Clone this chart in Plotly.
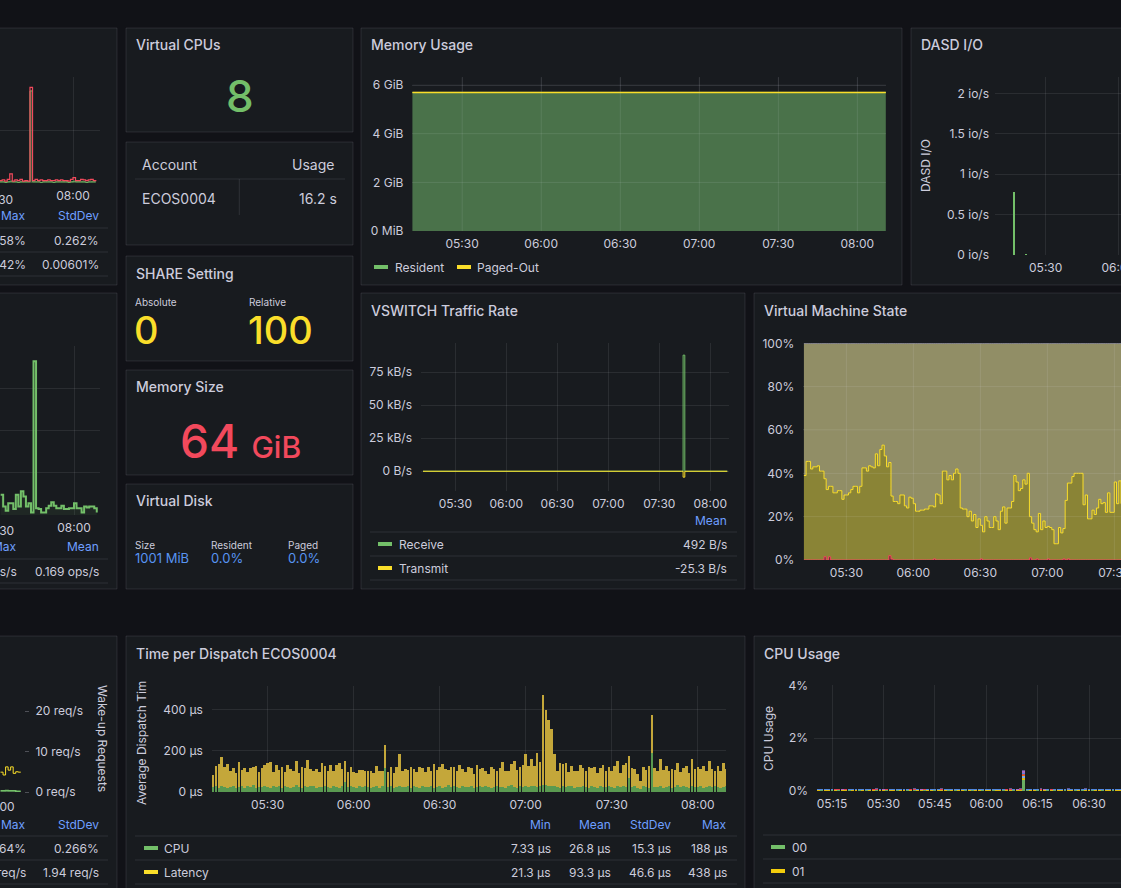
import plotly.graph_objects as go
import pandas as pd

# ---------------------------------------------------------------- data
DAY = "2024-01-01"

# cut-off left column panels (1-minute samples)
left1_start = "07:31"
left1_red = [0.04, 0.05, 0.03, 0.06, 0.15, 0.03, 0.05, 0.04, 0.06, 0.03,
             0.04, 0.03, 1.58, 0.04, 0.06, 0.04, 0.05, 0.04, 0.04, 0.05,
             0.04, 0.04, 0.05, 0.04, 0.05, 0.04, 0.04, 0.03, 0.06, 0.09,
             0.04, 0.04, 0.06, 0.05, 0.04, 0.05, 0.06, 0.04, 0.03]
left1_green = [0.02, 0.02, 0.01, 0.02, 0.03, 0.02, 0.02, 0.01, 0.02, 0.02,
               0.02, 0.02, 1.52, 0.02, 0.02, 0.02, 0.01, 0.02, 0.02, 0.02,
               0.02, 0.01, 0.02, 0.02, 0.02, 0.02, 0.02, 0.01, 0.02, 0.03,
               0.02, 0.02, 0.02, 0.02, 0.01, 0.02, 0.02, 0.02, 0.02]
left2_start = "07:31"
left2_ops = [0.24, 0.10, 0.05, 0.14, 0.14, 0.07, 0.24, 0.10, 0.28, 0.22,
             0.10, 0.14, 0.03, 1.82, 0.08, 0.07, 0.03, 0.03, 0.08, 0.11,
             0.15, 0.11, 0.08, 0.08, 0.11, 0.07, 0.07, 0.08, 0.08, 0.14,
             0.08, 0.08, 0.03, 0.10, 0.09, 0.10, 0.10, 0.08, 0.03]
left3_start = "08:01"
left3_wakeup = [4.9, 4.2, 6.2, 5.4, 6.2, 4.6, 5.0, 4.9, 4.9]
left3_green = [0.3, 0.3, 0.4, 0.3, 0.3, 0.3, 0.2, 0.2, 0.2]

# Memory usage (GiB, 15-minute samples from 05:11)
mem_start = "05:11"
mem_resident = [5.7, 5.7, 5.7, 5.7, 5.7, 5.7, 5.7, 5.7, 5.7, 5.7, 5.7, 5.7, 5.7]
mem_paged = [0, 0, 0, 0, 0, 0, 0, 0, 0, 0, 0, 0, 0]

# DASD I/O
dasd_times = ["05:17", "05:22"]
dasd_vals = [0.78, 0.01]

# VSWITCH traffic (B/s)
vs_times = ["05:11", "07:43", "07:44", "07:45", "08:10"]
vs_receive = [0, 0, 88000, 0, 0]
vs_transmit = [0, 0, -4500, 0, 0]

# Virtual machine state (% , 1-minute samples from 05:11)
vm_start = "05:11"
vm_red = [0, 0, 0, 0, 0, 0, 0, 0, 0, 1.5,
          0, 1.5, 0, 0, 0, 0, 0, 0, 0, 0,
          0, 0, 0, 0, 0, 0, 0, 0, 0, 0,
          0, 0, 0, 0, 0, 0, 0, 0, 2, 0.5,
          0, 0, 0, 0, 0, 0, 0, 0, 0, 0,
          0, 0, 0, 0, 0, 0, 0, 0, 0.5, 0,
          0, 0, 0, 0, 0, 0, 0, 0, 0, 0,
          0, 0, 0, 0, 0, 0, 0, 0, 0, 0.5,
          0, 0, 0, 0, 0, 0, 0, 0, 0, 0,
          0, 0, 0, 0, 0, 0, 0, 0, 0, 0,
          0, 1, 0, 0, 0.5, 0, 0, 0, 0, 0.5,
          0, 0, 0, 0, 0, 0, 0.5, 0, 0.5, 0,
          0, 0, 0, 0, 0, 0, 0, 0, 0, 0,
          0, 0, 0, 0, 0, 0, 0, 0, 0, 0,
          0, 0, 0]
vm_yellow = [39, 45.5, 45.5, 42, 43, 43, 43.5, 41, 41, 36,
             32.5, 32.5, 34, 31, 31, 32, 32, 28, 30, 30,
             31, 32.5, 34, 34, 31, 34, 42.5, 42.5, 41, 43.5,
             43, 42.5, 49, 43.5, 51, 53, 48, 43, 43, 29,
             27, 27, 26, 30, 30, 25, 24, 29, 28.5, 26,
             22.5, 22.5, 23, 23, 23.5, 23.5, 25, 25, 24, 30.5,
             30, 26, 41, 41, 37, 39, 37, 40, 42, 40,
             24, 23.5, 23.5, 20, 22.5, 18, 21, 15, 19, 15.5,
             13, 20, 18, 15, 15, 20, 18, 14, 22.5, 24.5,
             17, 24, 24, 27, 39, 36, 32, 33, 37, 35,
             40, 19, 17, 14, 12.5, 21.5, 14, 18, 15, 15,
             15, 14, 7.5, 7.5, 15, 12.5, 14, 27.5, 35, 35.5,
             38.5, 40, 40, 40, 40, 25.5, 30, 19, 19, 23,
             21, 24, 28, 26, 26.5, 22, 31, 22, 22, 36,
             26, 36.5, 26]

# Time per dispatch (µs, 1-minute bars from 05:11)
disp_start = "05:11"
disp_cpu = [22, 28, 19, 31, 24, 17, 26, 30, 21, 25,
            27, 18, 29, 23, 33, 20, 26, 24, 31, 22,
            19, 27, 25, 30, 21, 28, 23, 17, 26, 32,
            24, 20, 29, 22, 27, 31, 18, 25, 23, 28,
            26, 21, 30, 24, 19, 27, 48, 22, 29, 25,
            20, 28, 23, 31, 26, 18, 24, 29, 21, 27,
            118, 23, 30, 19, 26, 28, 22, 25, 31, 20,
            27, 24, 18, 29, 23, 26, 30, 21, 25, 28,
            19, 26, 32, 22, 27, 24, 20, 29, 23, 25,
            28, 18, 26, 31, 22, 27, 24, 20, 25, 29,
            23, 26, 21, 28, 32, 25, 19, 27, 24, 30,
            22, 28, 31, 25, 29, 33, 36, 30, 27, 30,
            24, 20, 29, 22, 27, 31, 18, 25, 23, 28,
            26, 21, 30, 24, 19, 27, 25, 22, 29, 25,
            20, 28, 23, 31, 26, 69, 24, 29, 21, 15,
            27, 24, 18, 187, 23, 26, 30, 21, 25, 28,
            19, 26, 32, 22, 27, 24, 20, 29, 23, 25,
            28, 18, 26, 31, 22, 27, 24, 20, 25, 29]
disp_latency = [58, 96, 118, 136, 95, 117, 78, 84, 72, 120,
                78, 100, 70, 94, 86, 108, 70, 93, 100, 116,
                125, 70, 108, 78, 100, 70, 108, 94, 78, 116,
                70, 100, 86, 132, 86, 70, 94, 73, 116, 100,
                78, 108, 73, 108, 120, 86, 102, 73, 94, 73,
                70, 78, 82, 70, 78, 86, 70, 96, 81, 74,
                109, 76, 90, 71, 96, 156, 81, 86, 74, 100,
                84, 72, 105, 88, 76, 94, 71, 115, 81, 91,
                116, 86, 74, 100, 94, 76, 110, 84, 72, 96,
                88, 71, 105, 81, 94, 76, 64, 100, 86, 71,
                94, 120, 81, 74, 105, 125, 86, 96, 106, 155,
                105, 132, 96, 166, 114, 438, 360, 318, 276, 155,
                80, 118, 106, 120, 71, 94, 86, 76, 106, 88,
                74, 100, 84, 96, 71, 88, 106, 81, 94, 76,
                104, 120, 71, 98, 112, 105, 94, 80, 66, 40,
                96, 84, 106, 185, 91, 76, 130, 86, 100, 74,
                94, 81, 110, 76, 88, 104, 71, 133, 86, 96,
                81, 106, 76, 120, 88, 74, 100, 84, 115, 81]

# CPU usage per virtual CPU (units of 0.01 %, 1-minute bars from 05:11)
cpu_start = "05:11"
cpu_names = ["00", "01", "02", "03", "04", "05", "06", "07"]
cpu_00 = [1,2,1,1,2,1,2,1,1,2, 1,1,2,1,2,1,1,2,1,1, 2,1,1,2,1,1,2,1,2,1, 1,2,1,1,2,1,1,1,2,1, 2,1,1,2,1,2,1,1,2,1, 1,2,1,1,2,1,1,2,1,1, 42,2,1,1,2,1,1,2,1,2, 1,1,2,1,1,2,1,2,1,1, 2,1,1,2,1,1,2,1,1,2]
cpu_01 = [2,1,2,2,1,2,1,2,2,1, 2,2,1,2,1,2,2,1,2,2, 1,2,2,1,2,2,1,2,1,2, 2,1,2,2,1,2,2,2,1,2, 1,2,2,1,2,1,2,2,1,2, 2,1,2,2,1,2,2,1,2,2, 6,1,2,2,1,2,2,1,2,1, 2,2,1,2,2,1,2,1,2,2, 1,2,2,1,2,2,1,2,2,1]
cpu_02 = [1,1,0,1,1,2,1,0,1,1, 0,1,1,1,0,1,2,1,1,0, 1,1,0,1,1,1,0,2,1,1, 0,1,1,0,1,1,2,1,0,1, 1,0,1,1,1,0,1,1,0,1, 1,1,0,1,1,2,1,0,1,1, 7,1,0,1,1,1,0,1,1,0, 1,1,1,0,1,1,0,1,1,1, 0,1,1,1,0,1,1,0,1,1]
cpu_03 = [0,1,1,0,1,0,1,1,1,0, 1,0,1,0,1,1,0,1,0,1, 1,0,1,1,0,1,1,0,1,0, 1,1,0,1,0,1,0,1,1,0, 1,1,0,1,0,1,1,0,1,1, 0,1,1,0,1,0,1,1,0,1, 5,0,1,1,0,1,1,0,1,1, 0,1,0,1,1,0,1,1,0,1, 1,0,1,0,1,1,0,1,1,0]
cpu_04 = [1,0,1,1,0,1,1,0,1,1, 1,1,0,1,1,0,1,1,1,0, 1,1,1,0,1,0,1,1,1,1, 0,1,1,1,1,0,1,0,1,1, 0,1,1,0,1,1,0,1,1,0, 1,0,1,1,0,1,1,1,0,1, 5,1,1,0,1,1,0,1,1,1, 1,0,1,1,0,1,1,0,1,0, 1,1,0,1,1,0,1,1,0,1]
cpu_05 = [2,1,1,2,1,1,2,1,2,1, 1,2,1,1,2,1,1,2,1,1, 2,1,2,1,1,2,1,1,2,1, 1,1,2,1,1,2,1,1,1,2, 1,2,1,1,2,1,1,2,1,1, 2,1,1,2,1,1,2,1,1,2, 4,2,1,1,2,1,1,2,1,1, 2,1,1,2,1,2,1,1,2,1, 1,2,1,1,2,1,1,2,1,1]
cpu_06 = [1,1,2,1,1,1,0,1,1,2, 1,1,1,0,1,2,1,1,1,1, 0,1,1,2,1,1,1,0,1,1, 2,1,1,1,0,1,1,1,2,1, 1,1,0,1,1,1,2,1,1,1, 0,1,1,1,2,1,1,0,1,1, 5,1,1,2,1,1,1,0,1,1, 1,2,1,1,0,1,1,1,2,1, 1,0,1,1,1,2,1,1,0,1]
cpu_07 = [1,1,1,1,2,1,1,1,0,1, 1,1,2,1,1,1,0,1,1,2, 1,1,1,1,0,1,1,2,1,1, 1,0,1,1,1,1,2,1,1,0, 1,1,1,2,1,1,0,1,1,1, 1,1,2,1,1,0,1,1,1,2, 4,1,1,1,1,2,1,1,0,1, 1,1,1,2,1,1,0,1,1,1, 2,1,1,1,1,0,1,1,1,1]
cpu_series = [cpu_00, cpu_01, cpu_02, cpu_03, cpu_04, cpu_05, cpu_06, cpu_07]

# ---------------------------------------------------------------- style
W, H = 1121, 888
BG = "#111217"
PANEL = "#181b1f"
BORDER = "rgba(204,204,220,0.12)"
SEP = "rgba(204,204,220,0.12)"
TXT = "#ccccdc"
BLUE = "#6e9fff"
GRID = "rgba(204,204,220,0.10)"
FONT = "Inter"
GREEN = "#73bf69"
YELLOW = "#fade2a"
RED = "#f2495c"
CPU_COLORS = ["#73bf69", "#f2cc0c", "#8ab8ff", "#ff780a", "#f2495c", "#5794f2", "#b877d9", "#705da0"]


def X(px):
    return px / W


def Y(py):
    return 1 - py / H


def T(hhmm, plus=0.0):
    return pd.Timestamp(f"{DAY} {hhmm}") + pd.Timedelta(minutes=plus)


def times_from(start, n, step=1):
    return [T(start, i * step) for i in range(n)]


fig = go.Figure()
layout = {}
shapes = []
annotations = []


def panel(x0, y0, x1, y1):
    shapes.append(dict(type="rect", xref="paper", yref="paper", x0=X(x0), x1=X(x1), y0=Y(y1), y1=Y(y0),
                       fillcolor=PANEL, line=dict(color=BORDER, width=1), layer="below"))


def text(x, y, s, size=12, color=TXT, xanchor="left", weight=None, angle=0):
    f = dict(family=FONT, size=size, color=color)
    if weight:
        f["weight"] = weight
    dx = -1 if xanchor == "left" else (1 if xanchor == "right" else 0)
    annotations.append(dict(x=X(x + dx), y=Y(y), xref="paper", yref="paper", text=s, showarrow=False,
                            xanchor=xanchor, yanchor="middle", font=f, textangle=angle))


def title(x, y, s):
    text(x, y, s, size=14, weight=500)


def hline(x0, x1, y, color=SEP):
    shapes.append(dict(type="line", xref="paper", yref="paper", x0=X(x0), x1=X(x1), y0=Y(y), y1=Y(y),
                       line=dict(color=color, width=1), layer="below"))


def swatch(x, y, color):
    shapes.append(dict(type="rect", xref="paper", yref="paper", x0=X(x), x1=X(x + 14), y0=Y(y + 2), y1=Y(y - 2),
                       fillcolor=color, line=dict(width=0), layer="above"))


axis_font = dict(family=FONT, size=12, color=TXT)


def add_axes(n, xl, xr, yt, yb, xrange, yrange, xdtick=30, xlabels=True, xkw=None, ykw=None):
    sx = "" if n == 1 else str(n)
    xa = dict(domain=[X(xl), X(xr)], range=[xrange[0], xrange[1]], anchor="y" + sx, type="date",
              tickformat="%H:%M", dtick=xdtick * 60000, tick0=f"{DAY} 00:00",
              showgrid=True, gridcolor=GRID, gridwidth=1, zeroline=False, showline=False, ticks="",
              tickfont=axis_font, showticklabels=xlabels, ticklabelstandoff=4, fixedrange=True,
              automargin=False, ticklabeloverflow="allow")
    ya = dict(domain=[Y(yb), Y(yt)], range=list(yrange), anchor="x" + sx, showgrid=True, gridcolor=GRID,
              gridwidth=1, zeroline=False, showline=False, ticks="", tickfont=axis_font,
              ticklabelstandoff=8, fixedrange=True, automargin=False)
    if xkw:
        xa.update(xkw)
    if ykw:
        ya.update(ykw)
    layout["xaxis" + sx] = xa
    layout["yaxis" + sx] = ya
    return "x" + sx, "y" + sx


def grid_above(xa, ya, xs, ys):
    for xv in xs:
        shapes.append(dict(type="line", xref=xa, yref=ya + " domain", x0=xv, x1=xv, y0=0, y1=1,
                           line=dict(color="rgba(204,204,220,0.09)", width=1), layer="above"))
    for yv in ys:
        shapes.append(dict(type="line", xref=xa + " domain", yref=ya, x0=0, x1=1, y0=yv, y1=yv,
                           line=dict(color="rgba(204,204,220,0.09)", width=1), layer="above"))


# ---------------------------------------------------------------- panels
panel(-5, 28, 117, 285)
panel(126, 28, 353, 132)
panel(126, 142, 353, 245)
panel(361, 28, 902, 285)
panel(911, 28, 1130, 285)
panel(-5, 293, 117, 589)
panel(126, 256, 353, 361)
panel(126, 370, 353, 475)
panel(126, 484, 353, 589)
panel(361, 293, 745, 589)
panel(754, 293, 1130, 589)
panel(-5, 636, 117, 895)
panel(126, 636, 745, 895)
panel(754, 636, 1130, 895)

# ---------------------------------------------------------------- left panel 1
xa, ya = add_axes(1, 0, 100, 77, 183, [T("08:00", -73 / 2.53), T("08:00", 27 / 2.53)], [0, 1.75],
                  ykw=dict(dtick=0.875, showticklabels=False))
t1 = times_from(left1_start, len(left1_red))
fig.add_trace(go.Scatter(x=t1, y=left1_green, xaxis=xa, yaxis=ya, mode="lines",
                         line=dict(color=GREEN, width=1, shape="hv"), fill="tozeroy",
                         fillcolor="rgba(115,191,105,0.35)"))
fig.add_trace(go.Scatter(x=t1, y=left1_red, xaxis=xa, yaxis=ya, mode="lines",
                         line=dict(color=RED, width=1.2, shape="hv")))
text(-3, 199, "07:30", xanchor="center")
text(27, 216, "Max", color=BLUE, xanchor="right")
text(100, 216, "StdDev", color=BLUE, xanchor="right")
hline(-5, 108, 228)
text(27, 240, "1.58%", xanchor="right")
text(100, 240, "0.262%", xanchor="right")
hline(-5, 108, 252)
text(27, 264, "0.0542%", xanchor="right")
text(100, 264, "0.00601%", xanchor="right")
hline(-5, 108, 276)

# ---------------------------------------------------------------- left panel 2
xa, ya = add_axes(2, 0, 100, 346, 515, [T("08:00", -74 / 2.53), T("08:00", 26 / 2.53)], [0, 2],
                  ykw=dict(dtick=0.5, showticklabels=False))
t2 = times_from(left2_start, len(left2_ops))
fig.add_trace(go.Scatter(x=t2, y=left2_ops, xaxis=xa, yaxis=ya, mode="lines",
                         line=dict(color=GREEN, width=2, shape="hv"), fill="tozeroy",
                         fillcolor="rgba(115,191,105,0.08)"))
text(-2, 530, "07:30", xanchor="center")
text(18, 546, "Max", color=BLUE, xanchor="right")
text(100, 546, "Mean", color=BLUE, xanchor="right")
hline(-5, 108, 559)
text(18, 571, "1.82 ops/s", xanchor="right")
text(100, 571, "0.169 ops/s", xanchor="right")
hline(-5, 108, 583)

# ---------------------------------------------------------------- left panel 3
xa, ya = add_axes(7, 0, 24, 688, 792, [T("08:00", 2 / 2.53), T("08:00", 26 / 2.53)], [0, 2],
                  xlabels=False, ykw=dict(dtick=1, showticklabels=False))
layout["yaxis10"] = dict(domain=[Y(792), Y(688)], range=[0, 104 / 4.05], overlaying="y7", side="right",
                         anchor="x7", tickvals=[0, 10, 20], ticktext=["0 req/s", "10 req/s", "20 req/s"],
                         showgrid=False, zeroline=False, showline=False, ticks="outside", ticklen=4,
                         tickcolor="rgba(204,204,220,0.3)", tickfont=axis_font, ticklabelstandoff=4,
                         fixedrange=True, automargin=False)
t3 = times_from(left3_start, len(left3_wakeup))
fig.add_trace(go.Scatter(x=t3, y=left3_green, xaxis=xa, yaxis="y10", mode="lines",
                         line=dict(color=GREEN, width=1.5, shape="hv"), fill="tozeroy",
                         fillcolor="rgba(115,191,105,0.35)"))
fig.add_trace(go.Scatter(x=t3, y=left3_wakeup, xaxis=xa, yaxis="y10", mode="lines",
                         line=dict(color=YELLOW, width=1, shape="hv")))
text(-2, 806, "08:00", xanchor="center")
text(103, 738, "Wake-up Requests", xanchor="center", angle=90)
text(27, 824, "Max", color=BLUE, xanchor="right")
text(100, 824, "StdDev", color=BLUE, xanchor="right")
hline(-5, 108, 836)
text(27, 848, "1.64%", xanchor="right")
text(100, 848, "0.266%", xanchor="right")
hline(-5, 108, 860)
text(27, 872, "23.4 req/s", xanchor="right")
text(100, 872, "1.94 req/s", xanchor="right")
hline(-5, 108, 884)

# ---------------------------------------------------------------- stat panels
title(135, 45, "Virtual CPUs")
text(240, 96, "8", size=44, color=GREEN, xanchor="center", weight=500)

text(141, 165, "Account", size=14)
text(335, 165, "Usage", size=14, xanchor="right")
hline(135, 345, 179)
shapes.append(dict(type="line", xref="paper", yref="paper", x0=X(239.3), x1=X(239.3), y0=Y(215), y1=Y(179),
                   line=dict(color=SEP, width=1), layer="below"))
text(141, 198, "ECOS0004", size=14)
text(338, 198, "16.2 s", size=14, xanchor="right")

title(135, 273, "SHARE Setting")
text(134, 302, "Absolute", size=10)
text(248, 302, "Relative", size=10)
text(133, 330, "0", size=38, color=YELLOW, weight=500)
text(247, 330, "100", size=38, color=YELLOW, weight=500)

title(135, 387, "Memory Size")
text(240, 441, "64 <span style='font-size:30px'>GiB</span>", size=46, color=RED, xanchor="center", weight=500)

title(135, 501, "Virtual Disk")
text(134, 545, "Size", size=10)
text(134, 558, "1001 MiB", size=13, color="#5794f2")
text(210, 545, "Resident", size=10)
text(210, 558, "0.0%", size=13, color="#5794f2")
text(287, 545, "Paged", size=10)
text(287, 558, "0.0%", size=13, color="#5794f2")

# ---------------------------------------------------------------- memory usage
title(370, 45, "Memory Usage")
xa, ya = add_axes(3, 412.4, 885.8, 77.3, 231, [T("05:30", -18.86), T("08:00", 10.8)], [0, 6.32],
                  ykw=dict(tickvals=[0, 2, 4, 6], ticktext=["0 MiB", "2 GiB", "4 GiB", "6 GiB"]))
tm = times_from(mem_start, len(mem_resident), 15)
fig.add_trace(go.Scatter(x=tm, y=mem_resident, xaxis=xa, yaxis=ya, mode="lines", stackgroup="mem",
                         line=dict(color=GREEN, width=1), fillcolor="rgba(95,151,92,0.7)"))
fig.add_trace(go.Scatter(x=tm, y=mem_paged, xaxis=xa, yaxis=ya, mode="lines", stackgroup="mem",
                         fill="none", line=dict(color=YELLOW, width=1.5)))
grid_above(xa, ya, [T("05:30"), T("06:00"), T("06:30"), T("07:00"), T("07:30"), T("08:00")], [2, 4, 6])
swatch(374, 267, GREEN)
text(394, 267, "Resident")
swatch(457, 267, YELLOW)
text(476, 267, "Paged-Out")

# ---------------------------------------------------------------- DASD I/O
title(920, 45, "DASD I/O")
xa, ya = add_axes(4, 995, 1121, 77.3, 255, [T("05:30", -50.7 / 72.6 * 30), T("05:30", 75.3 / 72.6 * 30)],
                  [0, 2.2],
                  ykw=dict(tickvals=[0, 0.5, 1, 1.5, 2],
                           ticktext=["0 io/s", "0.5 io/s", "1 io/s", "1.5 io/s", "2 io/s"],
                           ticklabelstandoff=5))
fig.add_trace(go.Bar(x=[T(t) for t in dasd_times], y=dasd_vals, xaxis=xa, yaxis=ya,
                     width=60000 * 0.8, marker=dict(color=GREEN, line=dict(width=0))))
text(926, 166, "DASD I/O", xanchor="center", angle=-90)

# ---------------------------------------------------------------- VSWITCH
title(370, 310, "VSWITCH Traffic Rate")
xa, ya = add_axes(5, 421, 729.3, 343, 491.3, [T("05:30", -34.3 / 51 * 30), T("08:00", 19 / 51 * 30)],
                  [-15200, 97200],
                  ykw=dict(tickvals=[0, 25000, 50000, 75000], ticktext=["0 B/s", "25 kB/s", "50 kB/s", "75 kB/s"]))
tv = [T(t) for t in vs_times]
fig.add_trace(go.Scatter(x=tv, y=vs_receive, xaxis=xa, yaxis=ya, mode="lines",
                         line=dict(color=GREEN, width=1, shape="hv")))
fig.add_trace(go.Scatter(x=tv, y=vs_transmit, xaxis=xa, yaxis=ya, mode="lines",
                         line=dict(color=YELLOW, width=1, shape="hv")))
text(728, 520, "Mean", color=BLUE, xanchor="right")
hline(370, 737, 532)
swatch(378, 544, GREEN)
text(398, 544, "Receive")
text(728, 544, "492 B/s", xanchor="right")
hline(370, 737, 556)
swatch(378, 568, YELLOW)
text(398, 568, "Transmit")
text(728, 568, "-25.3 B/s", xanchor="right")
hline(370, 737, 580)

# ---------------------------------------------------------------- VM state
title(763, 310, "Virtual Machine State")
xa, ya = add_axes(6, 803.3, 1121, 343.3, 560, [T("05:30", -43 / 67 * 30), T("05:30", 274.7 / 67 * 30)],
                  [0, 100],
                  ykw=dict(tickvals=[0, 20, 40, 60, 80, 100], ticktext=["0%", "20%", "40%", "60%", "80%", "100%"]))
tvm = times_from(vm_start, len(vm_yellow))
vm_rest = [100 - r - y for r, y in zip(vm_red, vm_yellow)]
fig.add_trace(go.Scatter(x=tvm, y=vm_red, xaxis=xa, yaxis=ya, mode="lines", stackgroup="vm",
                         line=dict(color=RED, width=1, shape="hv"), fillcolor="rgba(242,73,92,0.4)"))
fig.add_trace(go.Scatter(x=tvm, y=vm_yellow, xaxis=xa, yaxis=ya, mode="lines", stackgroup="vm",
                         line=dict(color=YELLOW, width=1, shape="hv"), fillcolor="rgba(187,177,64,0.7)"))
fig.add_trace(go.Scatter(x=tvm, y=vm_rest, xaxis=xa, yaxis=ya, mode="lines", stackgroup="vm",
                         line=dict(color="#9a9ab4", width=1, shape="hv"), fillcolor="rgba(197,191,132,0.7)"))
grid_above(xa, ya, [T("05:30"), T("06:00"), T("06:30"), T("07:00"), T("07:30")], [20, 40, 60, 80])

# ---------------------------------------------------------------- dispatch
title(135, 653, "Time per Dispatch ECOS0004")
xa, ya = add_axes(8, 211.8, 726, 686, 792, [T("05:30", -55.8 / 86 * 30), T("08:00", 28.2 / 86 * 30)],
                  [0, 513],
                  ykw=dict(tickvals=[0, 200, 400], ticktext=["0 µs", "200 µs", "400 µs"]))
td = times_from(disp_start, len(disp_cpu))
fig.add_trace(go.Bar(x=td, y=disp_cpu, xaxis=xa, yaxis=ya, width=60000 * 0.9,
                     marker=dict(color="#5a9a50", line=dict(width=0))))
fig.add_trace(go.Bar(x=td, y=disp_latency, xaxis=xa, yaxis=ya, width=60000 * 0.9,
                     marker=dict(color="#c4a73a", line=dict(width=0))))
text(141, 743, "Average Dispatch Tim", xanchor="center", angle=-90)
for xr, s in zip([552, 612, 672, 728], ["Min", "Mean", "StdDev", "Max"]):
    text(xr, 824, s, color=BLUE, xanchor="right")
hline(135, 737, 836)
swatch(144, 848, GREEN)
text(163, 848, "CPU")
for xr, s in zip([552, 612, 672, 728], ["7.33 µs", "26.8 µs", "15.3 µs", "188 µs"]):
    text(xr, 848, s, xanchor="right")
hline(135, 737, 860)
swatch(144, 872, YELLOW)
text(163, 872, "Latency")
for xr, s in zip([552, 612, 672, 728], ["21.3 µs", "93.3 µs", "46.6 µs", "438 µs"]):
    text(xr, 872, s, xanchor="right")
hline(135, 737, 884)

# ---------------------------------------------------------------- CPU usage
title(763, 653, "CPU Usage")
xa, ya = add_axes(9, 814, 1121, 685.3, 791, [T("05:15", -18 / 51.4 * 15), T("06:30", 32 / 51.4 * 15)],
                  [0, 4], xdtick=15,
                  ykw=dict(tickvals=[0, 2, 4], ticktext=["0%", "2%", "4%"], ticklabelstandoff=5))
for name, vals, col in zip(cpu_names, cpu_series, CPU_COLORS):
    tc = times_from(cpu_start, len(vals))
    fig.add_trace(go.Bar(x=tc, y=[v / 100 for v in vals], xaxis=xa, yaxis=ya, width=60000 * 0.85,
                         marker=dict(color=col, opacity=0.9, line=dict(width=0)), name=name))
text(768, 738, "CPU Usage", xanchor="center", angle=-90)
hline(763, 1130, 835)
swatch(771, 847, CPU_COLORS[0])
text(791, 847, "00")
hline(763, 1130, 859)
swatch(771, 871, CPU_COLORS[1])
text(791, 871, "01")
hline(763, 1130, 883)

# ---------------------------------------------------------------- layout
layout.update(dict(width=W, height=H, margin=dict(l=0, r=0, t=0, b=0, pad=0, autoexpand=False),
                   paper_bgcolor=BG, plot_bgcolor="rgba(0,0,0,0)", showlegend=False, barmode="stack",
                   bargap=0, font=dict(family=FONT, color=TXT, size=12), shapes=shapes,
                   annotations=annotations, hovermode=False))
fig.update_layout(**layout)
fig.update_traces(hoverinfo="skip")

fig.write_html("out.html", config=dict(displayModeBar=False, staticPlot=True),
               post_script="document.body.style.margin='0';document.body.style.background='#111217';")
